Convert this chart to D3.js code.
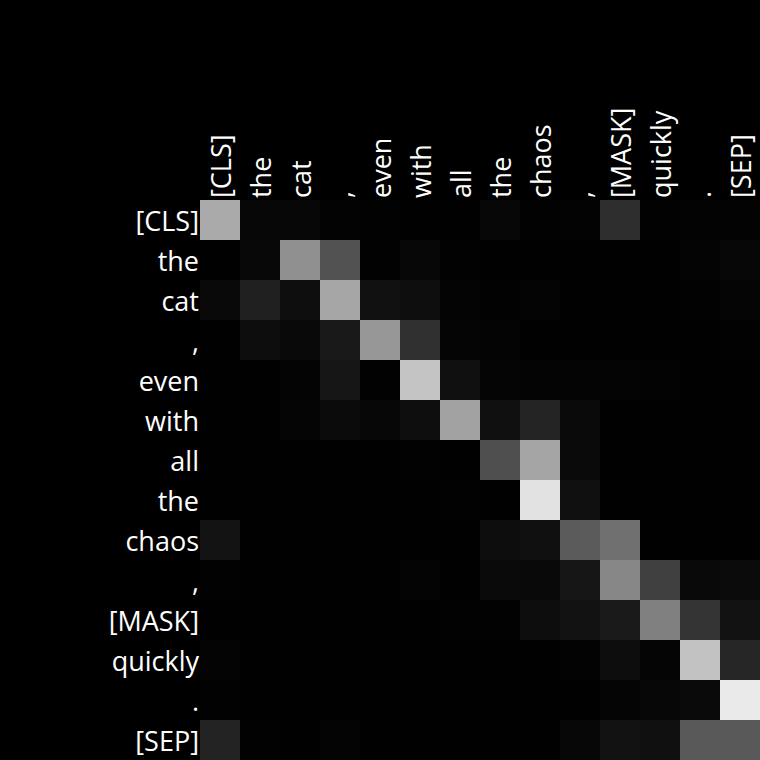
<!DOCTYPE html>
<html><head><meta charset="utf-8">
<script src="https://cdn.jsdelivr.net/npm/d3@7"></script>
<style>html,body{margin:0;padding:0;background:#000;}</style>
</head><body>
<svg id="c" width="760" height="760"></svg>
<script>
const tokens = ["[CLS]","the","cat",",","even","with","all","the","chaos",",","[MASK]","quickly",".","[SEP]"];
// attention weights (row = query token, col = key token), read as gray level / 255
const row0  = [170,7,6,3,2,1,1,6,2,3,46,2,3,3];
const row1  = [1,8,144,82,2,7,2,1,1,1,1,1,4,6];
const row2  = [9,32,14,166,17,14,4,2,4,1,1,1,2,5];
const row3  = [1,13,9,25,150,48,5,4,1,1,1,1,1,2];
const row4  = [1,1,4,22,2,195,16,5,4,4,4,3,1,1];
const row5  = [1,1,5,11,6,14,162,15,36,10,1,1,1,1];
const row6  = [1,1,1,1,1,2,1,79,165,10,1,1,1,1];
const row7  = [1,1,1,1,1,1,2,1,226,16,1,1,1,1];
const row8  = [19,1,1,1,1,1,1,13,16,91,112,1,1,1];
const row9  = [2,1,1,1,1,4,1,10,9,22,135,64,9,11];
const row10 = [1,1,1,1,1,1,2,2,13,18,26,128,51,18];
const row11 = [4,1,1,1,1,1,1,1,1,3,13,5,194,38];
const row12 = [2,1,1,1,1,1,1,1,1,1,5,6,10,234];
const row13 = [35,2,1,4,1,1,1,1,1,6,18,16,89,89];
const rows = [row0,row1,row2,row3,row4,row5,row6,row7,row8,row9,row10,row11,row12,row13];

(function(){
const svg = d3.select("#c");
const mLeft = 200, mTop = 200, size = 560;
const idx = d3.range(tokens.length);
const x = d3.scaleBand().domain(idx).range([mLeft, mLeft+size]).padding(0);
const y = d3.scaleBand().domain(idx).range([mTop, mTop+size]).padding(0);
const color = d3.scaleLinear().domain([0,255]).range(["#000000","#ffffff"]);

svg.append("rect").attr("width",760).attr("height",760).attr("fill","#000");

const cells = [];
rows.forEach((r,i)=>r.forEach((v,j)=>cells.push({i,j,v})));
svg.append("g").selectAll("rect").data(cells).join("rect")
  .attr("x",d=>x(d.j)).attr("y",d=>y(d.i))
  .attr("width",x.bandwidth()).attr("height",y.bandwidth())
  .attr("fill",d=>color(d.v)).attr("shape-rendering","crispEdges");

const font = "'Open Sans', 'Noto Sans', sans-serif";
const fs = 27;
svg.append("g").selectAll("text").data(idx).join("text")
  .attr("x",mLeft-1).attr("y",d=>y(d)+y.bandwidth()/2)
  .attr("text-anchor","end").attr("dominant-baseline","central")
  .attr("fill","#fff").attr("font-family",font).attr("font-size",fs)
  .text(d=>tokens[d]);

svg.append("g").selectAll("text").data(idx).join("text")
  .attr("transform",d=>`translate(${x(d)+x.bandwidth()/2},${mTop-2}) rotate(-90)`)
  .attr("text-anchor","start").attr("dominant-baseline","central")
  .attr("fill","#fff").attr("font-family",font).attr("font-size",fs)
  .text(d=>tokens[d]);
})();
</script>
</body></html>
